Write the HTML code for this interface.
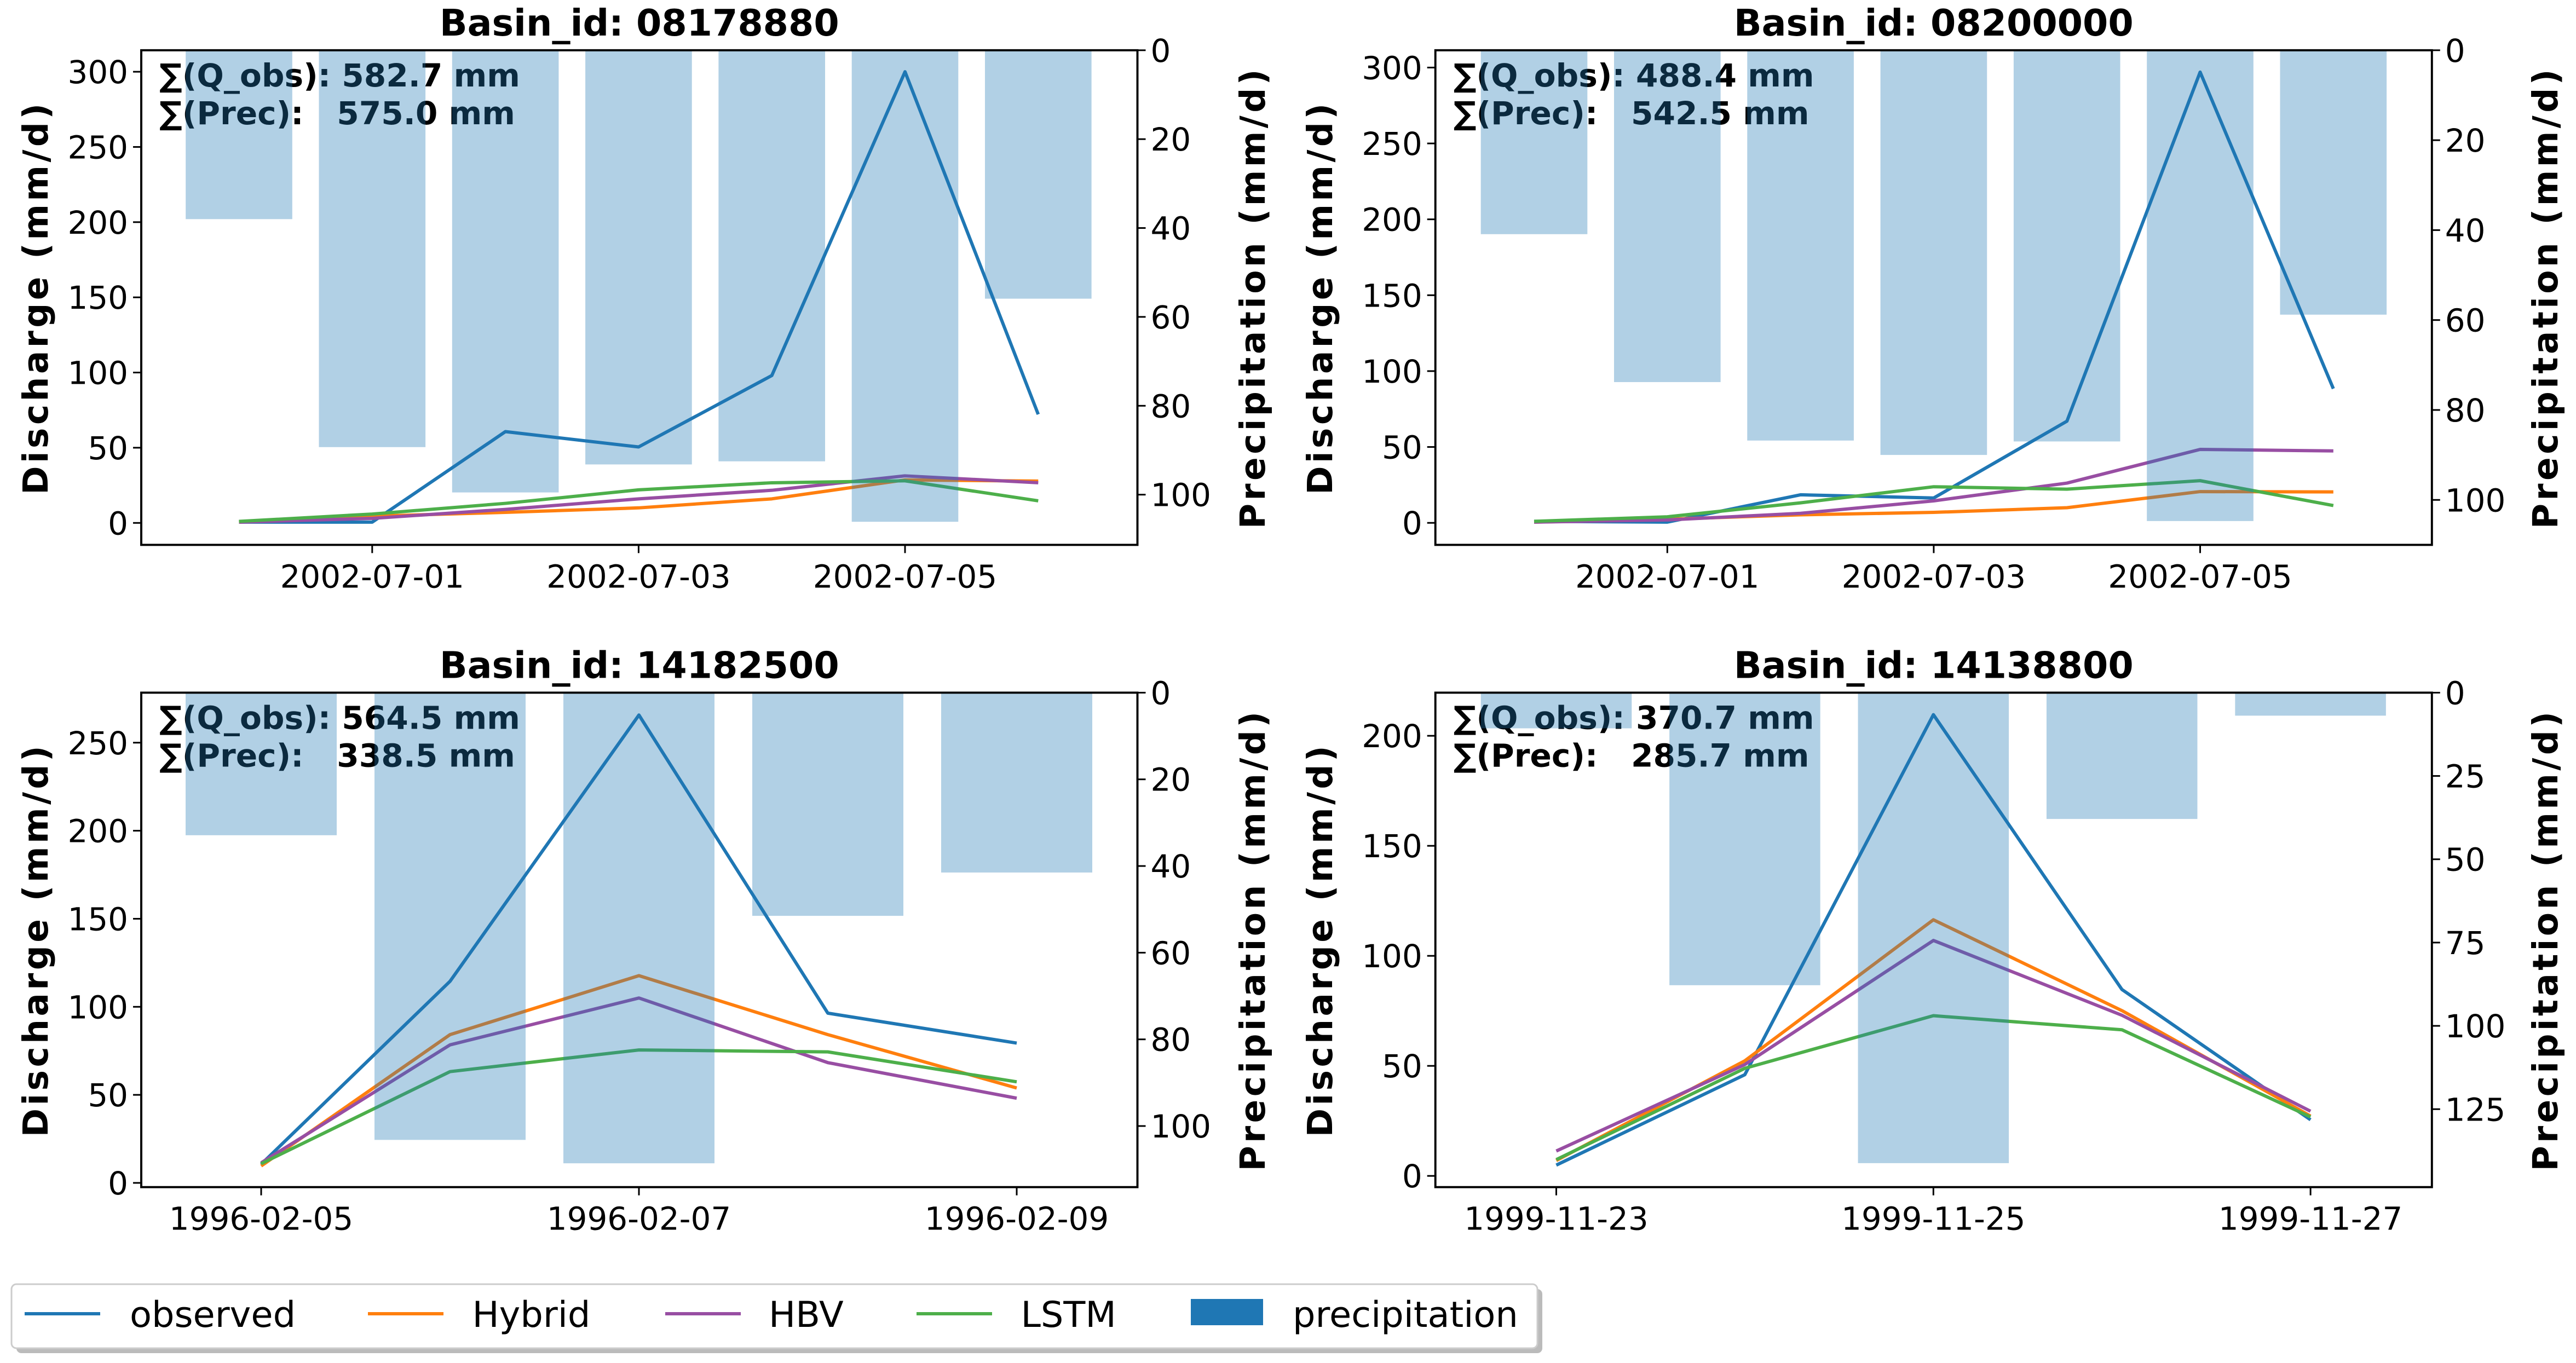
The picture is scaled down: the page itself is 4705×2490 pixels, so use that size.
<!DOCTYPE html>
<html><head><meta charset="utf-8">
<style>
html,body{margin:0;padding:0;background:#fff;}
svg{display:block;}
text{font-family:"DejaVu Sans","Liberation Sans",sans-serif;}
.tick{font-size:19.3px;fill:#000;}
.title{font-size:22.2px;font-weight:bold;fill:#000;}
.alabel{font-size:21px;font-weight:bold;fill:#000;letter-spacing:1.8px;}
.ann{font-size:19.4px;font-weight:bold;fill:#000;white-space:pre;}
.leg{font-size:21.8px;fill:#000;}
</style></head>
<body>
<svg id="chart" xmlns="http://www.w3.org/2000/svg" width="4705" height="2490" viewBox="0 0 1568.333 830"></svg>
<script>
// ---- data ----
const basinIds = ["08178880", "08200000", "14182500", "14138800"];
const dateLabels1 = ["2002-06-30","2002-07-01","2002-07-02","2002-07-03","2002-07-04","2002-07-05","2002-07-06"];
const dateLabels2 = ["2002-06-30","2002-07-01","2002-07-02","2002-07-03","2002-07-04","2002-07-05","2002-07-06"];
const dateLabels3 = ["1996-02-05","1996-02-06","1996-02-07","1996-02-08","1996-02-09"];
const dateLabels4 = ["1999-11-23","1999-11-24","1999-11-25","1999-11-26","1999-11-27"];
const qobsSums = ["582.7", "488.4", "564.5", "370.7"];
const precSums = ["575.0", "542.5", "338.5", "285.7"];

const prec1 = [38.0, 89.3, 99.5, 93.2, 92.5, 106.1, 55.9];
const observed1 = [0.5, 0.5, 60.7, 50.5, 98, 300, 72.2];
const hybrid1 = [0.5, 4.5, 7, 10, 16, 28.6, 27.8];
const hbv1 = [0.5, 3, 9, 16, 21.7, 31.3, 26.7];
const lstm1 = [1, 5.9, 13, 22, 26.7, 28, 14.7];

const prec2 = [40.9, 73.8, 86.8, 90, 87, 104.7, 58.8];
const observed2 = [1, 0.5, 18.5, 16.4, 67, 297, 88.4];
const hybrid2 = [0.5, 2.4, 5.3, 6.9, 10, 20.6, 20.4];
const hbv2 = [0.5, 1.9, 6.3, 14.5, 26.2, 48.4, 47.4];
const lstm2 = [1, 4, 13.2, 23.8, 22.2, 27.8, 11.4];

const prec3 = [32.9, 103.2, 108.6, 51.5, 41.5];
const observed3 = [10.6, 114.5, 265.7, 96.4, 79.4];
const hybrid3 = [9.6, 84.2, 117.7, 84.2, 53.9];
const hbv3 = [11.4, 78.4, 105, 68.3, 48.1];
const lstm3 = [10.9, 63.2, 75.5, 74.4, 57.4];

const prec4 = [10.7, 87.8, 141.2, 37.9, 6.9];
const observed4 = [4.9, 46, 209.6, 84.7, 25.5];
const hybrid4 = [7, 52.3, 116.4, 75.1, 27.2];
const hbv4 = [11.3, 50.6, 107, 73, 29.4];
const lstm4 = [7.4, 48.9, 72.8, 66.4, 26.8];

const leftTicks1 = [0, 50, 100, 150, 200, 250, 300];
const leftTicks3 = [0, 50, 100, 150, 200, 250];
const leftTicks4 = [0, 50, 100, 150, 200];
const rightTicks1 = [0, 20, 40, 60, 80, 100];
const rightTicks4 = [0, 25, 50, 75, 100, 125];
const xTickIdx = [1, 3, 5];
const xTickIdxB = [0, 2, 4];

const seriesNames = ["observed", "Hybrid", "HBV", "LSTM"];
const seriesColors = ["#1f77b4", "#ff7f0e", "#984ea3", "#4daf4a"];

// ---- layout (pixel geometry, not data) ----
const NS = "http://www.w3.org/2000/svg";
const svg = document.getElementById("chart");
function el(tag, attrs, parent) {
  const e = document.createElementNS(NS, tag);
  for (const k in attrs) e.setAttribute(k, attrs[k]);
  (parent || svg).appendChild(e);
  return e;
}

const panels = [
  {id:0, dates:dateLabels1, prec:prec1, series:[observed1,hybrid1,hbv1,lstm1], L:86, R:692.5, T:30.6, B:331.8,
   lyMin:-14.6, lyMax:314.3, ryMax:111.3, lt:leftTicks1, rt:rightTicks1, xi:xTickIdx, x0:145.5, day:81.1, ylab:21, rlab:762},
  {id:1, dates:dateLabels2, prec:prec2, series:[observed2,hybrid2,hbv2,lstm2], L:873.9, R:1480.6, T:30.6, B:331.8,
   lyMin:-14.5, lyMax:311.4, ryMax:110.0, lt:leftTicks1, rt:rightTicks1, xi:xTickIdx, x0:934, day:81.1, ylab:803, rlab:1549},
  {id:2, dates:dateLabels3, prec:prec3, series:[observed3,hybrid3,hbv3,lstm3], L:86, R:692.5, T:421.8, B:722.9,
   lyMin:-2.4, lyMax:278.4, ryMax:114.1, lt:leftTicks3, rt:rightTicks1, xi:xTickIdxB, x0:159, day:115, ylab:21, rlab:762},
  {id:3, dates:dateLabels4, prec:prec4, series:[observed4,hybrid4,hbv4,lstm4], L:873.9, R:1480.6, T:421.8, B:722.9,
   lyMin:-5.1, lyMax:219.6, ryMax:148.4, lt:leftTicks4, rt:rightTicks4, xi:xTickIdxB, x0:947.5, day:114.8, ylab:803, rlab:1549}
];

panels.forEach(p => {
  const g = el("g", {});
  
  
  const xs = i => p.x0 + i * p.day;
  const yL = v => p.B - (v - p.lyMin) / (p.lyMax - p.lyMin) * (p.B - p.T);
  const yR = v => p.T + v / p.ryMax * (p.B - p.T);
  const cx = (p.L + p.R) / 2, cy = (p.T + p.B) / 2;

  const t = el("text", {x:cx, y:p.T - 9, "text-anchor":"middle", class:"title"}, g);
  t.textContent = "Basin_id: " + basinIds[p.id];
  
  

  const a1 = el("text", {x:p.L + 11, y:p.T + 22, class:"ann"}, g);
  a1.textContent = "\u2211(Q_obs): " + qobsSums[p.id] + " mm";
  
  
  const a2 = el("text", {x:p.L + 11, y:p.T + 45, class:"ann"}, g);
  a2.textContent = "\u2211(Prec):   " + precSums[p.id] + " mm";
  
  

  p.series.forEach((s, k) => {
    const pts = s.map((v, i) => xs(i).toFixed(2) + "," + yL(v).toFixed(2)).join(" ");
    const pl = el("polyline", {points:pts, fill:"none", stroke:seriesColors[k], "stroke-width":2, "stroke-linejoin":"round"}, g);
    
    
  });

  p.prec.forEach((v, i) => {
    const w = 0.8 * p.day;
    const r = el("rect", {x:xs(i) - w / 2, y:p.T, width:w, height:yR(v) - p.T, fill:"#1f77b4", "fill-opacity":0.35}, g);
    
    
  });

  const fr = el("rect", {x:p.L, y:p.T, width:p.R - p.L, height:p.B - p.T, fill:"none", stroke:"#000", "stroke-width":1.3}, g);
  
  

  p.lt.forEach(v => {
    const y = yL(v);
    el("line", {x1:p.L - 5, x2:p.L, y1:y, y2:y, stroke:"#000", "stroke-width":1}, g);
    const tx = el("text", {x:p.L - 8, y:y + 7, "text-anchor":"end", class:"tick"}, g);
    tx.textContent = v;
    
    
  });
  p.rt.forEach(v => {
    const y = yR(v);
    el("line", {x1:p.R, x2:p.R + 5, y1:y, y2:y, stroke:"#000", "stroke-width":1}, g);
    const tx = el("text", {x:p.R + 8, y:y + 7, "text-anchor":"start", class:"tick"}, g);
    tx.textContent = v;
    
    
  });
  p.xi.forEach(i => {
    const x = xs(i);
    el("line", {x1:x, x2:x, y1:p.B, y2:p.B + 5, stroke:"#000", "stroke-width":1}, g);
    const tx = el("text", {x:x, y:p.B + 26, "text-anchor":"middle", class:"tick"}, g);
    tx.textContent = p.dates[i];
    
    
  });

  const yl = el("text", {x:0, y:0, transform:"translate(" + (p.ylab + 8) + "," + cy + ") rotate(-90)", "text-anchor":"middle", class:"alabel"}, g);
  yl.textContent = "Discharge (mm/d)";
  
  
  const rl = el("text", {x:0, y:0, transform:"translate(" + (p.rlab + 8) + "," + cy + ") rotate(-90)", "text-anchor":"middle", class:"alabel"}, g);
  rl.textContent = "Precipitation (mm/d)";
  
  
});

const lg = el("g", {});


el("rect", {x:10, y:785, width:929, height:39, rx:3, fill:"#bbb"}, lg);
el("rect", {x:7, y:782, width:929, height:39, rx:3, fill:"#fff", stroke:"#ccc", "stroke-width":1}, lg);
const legLineX = [15, 224, 405, 558];
const legTextX = [79, 287.5, 468, 621.5];
seriesNames.forEach((n, k) => {
  const ln = el("line", {x1:legLineX[k], x2:legLineX[k] + 46, y1:800, y2:800, stroke:seriesColors[k], "stroke-width":2}, lg);
  
  
  const tx = el("text", {x:legTextX[k], y:808, class:"leg"}, lg);
  tx.textContent = n;
  
  
});
const pr = el("rect", {x:725, y:791, width:44, height:16, fill:"#1f77b4"}, lg);


const pt = el("text", {x:787, y:808, class:"leg"}, lg);
pt.textContent = "precipitation";


</script>
</body></html>
